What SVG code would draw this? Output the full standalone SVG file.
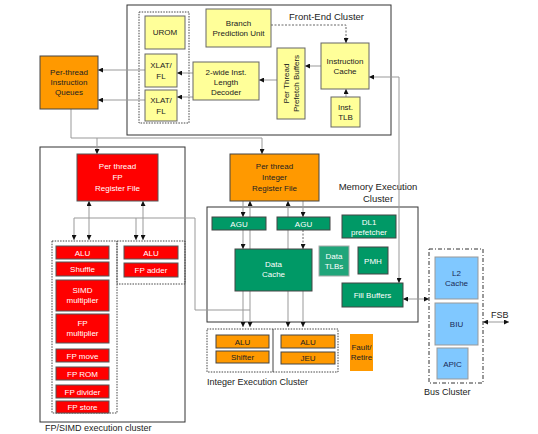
<svg xmlns="http://www.w3.org/2000/svg" width="538" height="434" viewBox="0 0 538 434">
<style>
text{font-family:"Liberation Sans",Arial,sans-serif;font-size:8px;fill:#222;text-anchor:middle}
.lbl{font-size:9.5px;text-anchor:start}
.cl{fill:#fff;stroke:#333;stroke-width:1}
.dot{fill:none;stroke:#444;stroke-width:1;stroke-dasharray:1.5 1.2}
.y{fill:#ffff99;stroke:#666;stroke-width:1}
.o{fill:#ff9900;stroke:#444;stroke-width:1}
.r{fill:#ff0000;stroke:#555;stroke-width:1}
.g{fill:#009966;stroke:#444;stroke-width:1}
.gl{fill:#20a57a;stroke:#aaa;stroke-width:1}
.b{fill:#80c8ff;stroke:#999;stroke-width:1}
.w{fill:#fff}
.nv{fill:#1a2a55}
.c{fill:none;stroke:#999;stroke-width:1}
.cd{fill:none;stroke:#666;stroke-width:1;stroke-dasharray:2 1.5}
</style>
<defs>
<marker id="a" viewBox="0 0 6 6" refX="6" refY="3" markerWidth="5" markerHeight="5" orient="auto-start-reverse" markerUnits="userSpaceOnUse">
<path d="M0,0 L6,3 L0,6 z" fill="#111"/>
</marker>
</defs>
<rect width="538" height="434" fill="#fff"/>

<!-- cluster frames -->
<g id="front-end-cluster">
<rect class="cl" x="127" y="5" width="264" height="130"/>
<text class="lbl" x="289" y="20">Front-End Cluster</text>
<rect class="dot" x="139" y="12" width="50" height="111"/>
</g>
<g id="fp-simd-cluster">
<rect class="cl" x="40" y="147" width="145" height="275"/>
<text class="lbl" x="45" y="431" style="font-size:9px">FP/SIMD execution cluster</text>
</g>
<g id="memory-execution-cluster">
<rect class="cl" x="207" y="207" width="211" height="115"/>
<text x="378" y="190" style="font-size:9.5px">Memory Execution</text>
<text x="378" y="202" style="font-size:9.5px">Cluster</text>
</g>

<!-- connectors -->
<g id="connectors">
<path class="cd" d="M271,25 H346 V43" marker-end="url(#a)"/>
<path class="c" d="M346,97 V89" marker-end="url(#a)"/>
<path class="c" d="M321,66 H305" marker-end="url(#a)"/>
<path class="c" d="M277,80 H259" marker-end="url(#a)"/>
<path class="c" d="M193,73 H177" marker-end="url(#a)"/>
<path class="c" d="M193,97 H177" marker-end="url(#a)"/>
<path class="c" d="M145,70 H98" marker-end="url(#a)"/>
<path class="c" d="M145,100 H98" marker-end="url(#a)"/>
<path class="c" d="M369,77 H399 V283" marker-start="url(#a)" marker-end="url(#a)"/>
<path class="c" d="M71,109 V138 H262 V154" marker-end="url(#a)"/>
<path class="c" d="M97,138 V154" marker-end="url(#a)"/>
<path class="c" d="M89,201 V240" marker-start="url(#a)" marker-end="url(#a)"/>
<path class="c" d="M143,201 V240" marker-start="url(#a)" marker-end="url(#a)"/>
<path class="c" d="M250,310 H195 V218 H74 V240" marker-end="url(#a)"/>
<path class="c" d="M136,218 V240" marker-end="url(#a)"/>
<path class="c" d="M243,201 V217" marker-end="url(#a)"/>
<path class="c" d="M243,230 V249" marker-end="url(#a)"/>
<path class="c" d="M243,291 V327" marker-end="url(#a)"/>
<path class="c" d="M250,327 V201" marker-start="url(#a)" marker-end="url(#a)"/>
<path class="c" d="M288,327 V201" marker-start="url(#a)" marker-end="url(#a)"/>
<path class="c" d="M303,201 V217" marker-end="url(#a)"/>
<path class="cd" d="M303,230 V249" marker-end="url(#a)"/>
<path class="c" d="M303,291 V327" marker-end="url(#a)"/>
<path class="c" d="M403,299 H429" marker-start="url(#a)" marker-end="url(#a)"/>
<path class="c" d="M483,322 H509" marker-start="url(#a)" marker-end="url(#a)"/>
</g>
<text class="lbl" x="491" y="318" style="font-size:9px">FSB</text>

<!-- front-end nodes -->
<g id="urom"><rect class="y" x="145" y="16" width="40" height="33"/><text x="165" y="35">UROM</text></g>
<g id="xlat1"><rect class="y" x="145" y="54" width="32" height="33"/><text x="161" y="68">XLAT/</text><text x="161" y="79">FL</text></g>
<g id="xlat2"><rect class="y" x="145" y="90" width="32" height="31"/><text x="161" y="103">XLAT/</text><text x="161" y="114">FL</text></g>
<g id="bpu"><rect class="y" x="206" y="9" width="65" height="38"/><text x="238.5" y="26">Branch</text><text x="238.5" y="36">Prediction Unit</text></g>
<g id="decoder"><rect class="y" x="193" y="62" width="66" height="38"/><text x="226" y="75">2-wide Inst.</text><text x="226" y="85">Length</text><text x="226" y="95">Decoder</text></g>
<g id="prefetch"><rect class="y" x="277" y="48" width="28" height="71"/><text transform="translate(289,83.5) rotate(-90)">Per Thread</text><text transform="translate(299,83.5) rotate(-90)">Prefetch Buffers</text></g>
<g id="icache"><rect class="y" x="321" y="43" width="48" height="46"/><text x="345" y="64">Instruction</text><text x="345" y="74">Cache</text></g>
<g id="itlb"><rect class="y" x="331" y="97" width="29" height="30"/><text x="345.5" y="110">Inst.</text><text x="345.5" y="120">TLB</text></g>

<g id="queues"><rect class="o" x="40" y="56" width="58" height="53"/><text x="69" y="75">Per-thread</text><text x="69" y="85">Instruction</text><text x="69" y="95">Queues</text></g>

<!-- FP -->
<g id="fp-regfile"><rect class="r" x="77" y="154" width="81" height="47"/><text class="w" x="117.5" y="169">Per thread</text><text class="w" x="117.5" y="180">FP</text><text class="w" x="117.5" y="191">Register File</text></g>
<g id="fp-port0">
<rect class="dot" x="52" y="241" width="65" height="172"/>
<rect class="r" x="56" y="246" width="53" height="13"/><text class="w" x="82.5" y="255.5">ALU</text>
<rect class="r" x="56" y="262" width="53" height="14"/><text class="w" x="82.5" y="272">Shuffle</text>
<rect class="r" x="56" y="280" width="53" height="31"/><text class="w" x="82.5" y="293">SIMD</text><text class="w" x="82.5" y="303">multiplier</text>
<rect class="r" x="56" y="314" width="53" height="29"/><text class="w" x="82.5" y="326">FP</text><text class="w" x="82.5" y="336">multiplier</text>
<rect class="r" x="56" y="349" width="53" height="13"/><text class="w" x="82.5" y="358.5">FP move</text>
<rect class="r" x="56" y="367" width="53" height="13"/><text class="w" x="82.5" y="376.5">FP ROM</text>
<rect class="r" x="56" y="385" width="53" height="13"/><text class="w" x="82.5" y="394.5">FP divider</text>
<rect class="r" x="56" y="401" width="53" height="12"/><text class="w" x="82.5" y="410">FP store</text>
</g>
<g id="fp-port1">
<rect class="dot" x="117" y="241" width="68" height="43"/>
<rect class="r" x="124" y="246" width="54" height="13"/><text class="w" x="151" y="255.5">ALU</text>
<rect class="r" x="124" y="263" width="54" height="14"/><text class="w" x="151" y="273">FP adder</text>
</g>

<!-- Integer / memory -->
<g id="int-regfile"><rect class="o" x="230" y="154" width="89" height="47"/><text x="274.5" y="169">Per thread</text><text x="274.5" y="180">Integer</text><text x="274.5" y="191">Register File</text></g>
<g id="agu1"><rect class="g" x="212" y="217" width="54" height="13"/><text class="w" x="239" y="226.5">AGU</text></g>
<g id="agu2"><rect class="g" x="277" y="217" width="53" height="13"/><text class="w" x="303.5" y="226.5">AGU</text></g>
<g id="dcache"><rect class="g" x="235" y="249" width="77" height="42"/><text class="w" x="273.5" y="267">Data</text><text class="w" x="273.5" y="277">Cache</text></g>
<g id="dl1"><rect class="g" x="342" y="215" width="54" height="23"/><text class="w" x="369" y="225">DL1</text><text class="w" x="369" y="235">prefetcher</text></g>
<g id="dtlb"><rect class="gl" x="319" y="246" width="30" height="30"/><text class="w" x="334" y="259">Data</text><text class="w" x="334" y="269">TLBs</text></g>
<g id="pmh"><rect class="g" x="358" y="247" width="30" height="27"/><text class="w" x="373" y="263.5">PMH</text></g>
<g id="fill"><rect class="g" x="342" y="283" width="61" height="24"/><text class="w" x="372.5" y="298">Fill Buffers</text></g>

<g id="int-exec">
<rect class="dot" x="207" y="329" width="131" height="43"/>
<line x1="273" y1="329" x2="273" y2="372" stroke="#444" stroke-width="1"/>
<rect class="o" x="216" y="335" width="53" height="13"/><text x="242.5" y="344.5">ALU</text>
<rect class="o" x="216" y="351" width="53" height="12"/><text x="242.5" y="360">Shifter</text>
<rect class="o" x="281" y="335" width="54" height="13"/><text x="308" y="344.5">ALU</text>
<rect class="o" x="281" y="352" width="54" height="12"/><text x="308" y="361">JEU</text>
<text class="lbl" x="207" y="385" style="font-size:9px">Integer Execution Cluster</text>
</g>
<g id="fault"><rect class="o" x="350" y="334" width="23" height="37" style="stroke:none"/><text x="361.5" y="350">Fault/</text><text x="361.5" y="360">Retire</text></g>

<g id="bus-cluster">
<rect x="429" y="249" width="54" height="134" fill="none" stroke="#333" stroke-width="1" stroke-dasharray="4 2 1 2"/>
<rect class="b" x="435" y="257" width="43" height="42"/><text class="nv" x="456.5" y="276">L2</text><text class="nv" x="456.5" y="286">Cache</text>
<rect class="b" x="435" y="303" width="43" height="42"/><text class="nv" x="456.5" y="327">BIU</text>
<rect class="b" x="437" y="348" width="31" height="31"/><text class="nv" x="452.5" y="366.5">APIC</text>
<text class="lbl" x="424" y="395" style="font-size:9px">Bus Cluster</text>
</g>
</svg>
